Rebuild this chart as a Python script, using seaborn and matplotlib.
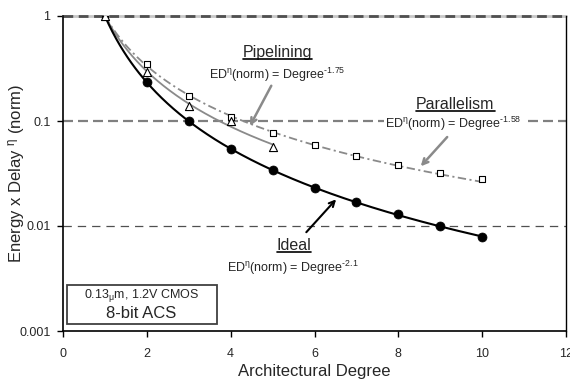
import numpy as np
import pandas as pd
import matplotlib
matplotlib.use("Agg")
import matplotlib.pyplot as plt
from matplotlib.patches import Rectangle
from matplotlib.lines import Line2D
import seaborn as sns

# measured energy-delay product, normalised to degree 1
ideal_degree = [2, 3, 4, 5, 6, 7, 8, 9, 10]
ideal_ed = [0.233, 0.100, 0.054, 0.034, 0.023, 0.017, 0.013, 0.0099, 0.0079]

pipe_degree = [1, 2, 3, 4, 5]
pipe_ed = [1.0, 0.29, 0.14, 0.10, 0.056]

par_degree = [1, 2, 3, 4, 5, 6, 7, 8, 9, 10]
par_ed = [1.0, 0.35, 0.174, 0.11, 0.077, 0.059, 0.046, 0.038, 0.032, 0.028]

# power-law fit exponents quoted on the chart
ideal_exp = -2.1
pipe_exp = -1.75
par_exp = -1.58

x_ticks = [0, 2, 4, 6, 8, 10, 12]
y_ticks = [0.001, 0.01, 0.1, 1]
y_ticklabels = ["0.001", "0.01", "0.1", "1"]

sns.set_style("white")
plt.rcParams["font.family"] = ["Liberation Sans", "DejaVu Sans"]
plt.rcParams["mathtext.fontset"] = "custom"
plt.rcParams["mathtext.rm"] = "Liberation Sans"
plt.rcParams["mathtext.it"] = "Liberation Sans"
plt.rcParams["mathtext.bf"] = "Liberation Sans:bold"
plt.rcParams["lines.scale_dashes"] = False

fig = plt.figure(figsize=(5.70, 3.86), dpi=100)
ax = fig.add_axes([63 / 570, 1 - 331 / 386, 503 / 570, 315 / 386])

ax.set_xlim(0, 12)
ax.set_yscale("log")
ax.set_ylim(0.001, 1)

# horizontal reference lines at each decade
ax.axhline(1, color="#c8c8c8", lw=2.0, zorder=1, clip_on=False)
ax.axhline(1, color="#505050", lw=2.0, ls=(0, (7, 4)), zorder=1.1, clip_on=False)
ax.axhline(0.1, color="#808080", lw=1.6, ls=(0, (7.2, 3.6)), zorder=1)
ax.axhline(0.01, color="#505050", lw=0.9, ls=(0, (6, 4.3)), zorder=1)

# fitted power-law curves
def fit_frame(x0, x1, exponent):
    xs = np.linspace(x0, x1, 200)
    return pd.DataFrame({"degree": xs, "ed": xs ** exponent})

sns.lineplot(data=fit_frame(1, 10, par_exp), x="degree", y="ed", ax=ax,
             color="#8a8a8a", lw=1.3, linestyle=(0, (6, 2.5, 1.5, 2.5)), zorder=2)
sns.lineplot(data=fit_frame(1, 5, pipe_exp), x="degree", y="ed", ax=ax,
             color="#8a8a8a", lw=1.3, zorder=2)
sns.lineplot(data=fit_frame(1, 10, ideal_exp), x="degree", y="ed", ax=ax,
             color="black", lw=1.5, zorder=3)

# measured points
sns.scatterplot(x=ideal_degree, y=ideal_ed, ax=ax, marker="o", s=42,
                color="black", edgecolor="black", linewidth=0.5, zorder=4)
sns.scatterplot(x=par_degree, y=par_ed, ax=ax, marker="s", s=22,
                color="white", edgecolor="black", linewidth=0.8, zorder=4)
sns.scatterplot(x=pipe_degree, y=pipe_ed, ax=ax, marker="^", s=34,
                color="white", edgecolor="black", linewidth=0.8, zorder=5)

# axes styling
ax.set_xticks(x_ticks)
ax.set_yticks(y_ticks)
ax.set_yticklabels(y_ticklabels)
ax.yaxis.set_minor_locator(matplotlib.ticker.NullLocator())
ax.tick_params(axis="both", which="major", direction="out", length=4,
               width=1, color="black", labelsize=9, pad=5,
               bottom=True, left=True)
ax.tick_params(axis="x", pad=8)
for side in ["left", "bottom"]:
    ax.spines[side].set_color("black")
    ax.spines[side].set_linewidth(1.2)
ax.spines["right"].set_color("black")
ax.spines["right"].set_linewidth(1.0)
ax.spines["top"].set_visible(False)

ax.set_xlabel("Architectural Degree", fontsize=12)
ax.set_ylabel(r"Energy x Delay $^{\eta}$ (norm)", fontsize=12)
ax.xaxis.set_label_coords(0.5, -0.130)
ax.xaxis.label.set_va("center")
ax.yaxis.set_label_coords(-0.0915, 0.5)
ax.yaxis.label.set_va("center")
ax.yaxis.label.set_ha("center")

# curve annotations
ann = dict(ha="center", va="center")
titles = [
    ax.text(5.12, 0.454, "Pipelining", fontsize=11.5, **ann),
    ax.text(9.36, 0.145, "Parallelism", fontsize=11.5,
            bbox=dict(facecolor="white", edgecolor="none", pad=1), **ann),
    ax.text(5.51, 0.00645, "Ideal", fontsize=11.5, **ann),
]
ax.text(5.12, 0.274, r"ED$^{\eta}$(norm) = Degree$^{\text{-1.75}}$", fontsize=9, **ann)
ax.annotate("", xy=(4.43, 0.0852), xytext=(5.00, 0.2286),
            arrowprops=dict(arrowstyle="->", color="#8a8a8a", lw=1.8))

ax.text(9.32, 0.0936, r"ED$^{\eta}$(norm) = Degree$^{\text{-1.58}}$", fontsize=9,
        bbox=dict(facecolor="white", edgecolor="none", pad=1), **ann)
ax.annotate("", xy=(8.49, 0.0354), xytext=(9.21, 0.0736),
            arrowprops=dict(arrowstyle="->", color="#8a8a8a", lw=1.8))

ax.text(5.49, 0.00398, r"ED$^{\eta}$(norm) = Degree$^{\text{-2.1}}$", fontsize=9, **ann)
ax.annotate("", xy=(6.56, 0.01877), xytext=(5.76, 0.00834),
            arrowprops=dict(arrowstyle="->", color="black", lw=1.5))

# technology box
ax.add_patch(Rectangle((0.0074, 0.0213), 0.2982, 0.1247, transform=ax.transAxes,
                       facecolor="white", edgecolor="#404040", lw=1.3, zorder=6))
ax.text(0.156, 0.114, r"0.13$_{\mu}$m, 1.2V CMOS", transform=ax.transAxes,
        fontsize=9, zorder=7, **ann)
ax.text(0.156, 0.057, "8-bit ACS", transform=ax.transAxes,
        fontsize=12, zorder=7, **ann)

# underline the curve titles
fig.canvas.draw()
renderer = fig.canvas.get_renderer()
for t in titles:
    bb = t.get_window_extent(renderer)
    y = bb.y0 + 1.0
    fig.add_artist(Line2D([bb.x0, bb.x1], [y, y], transform=None,
                          color="black", lw=1.2))

fig.savefig("out.png", dpi=100)
